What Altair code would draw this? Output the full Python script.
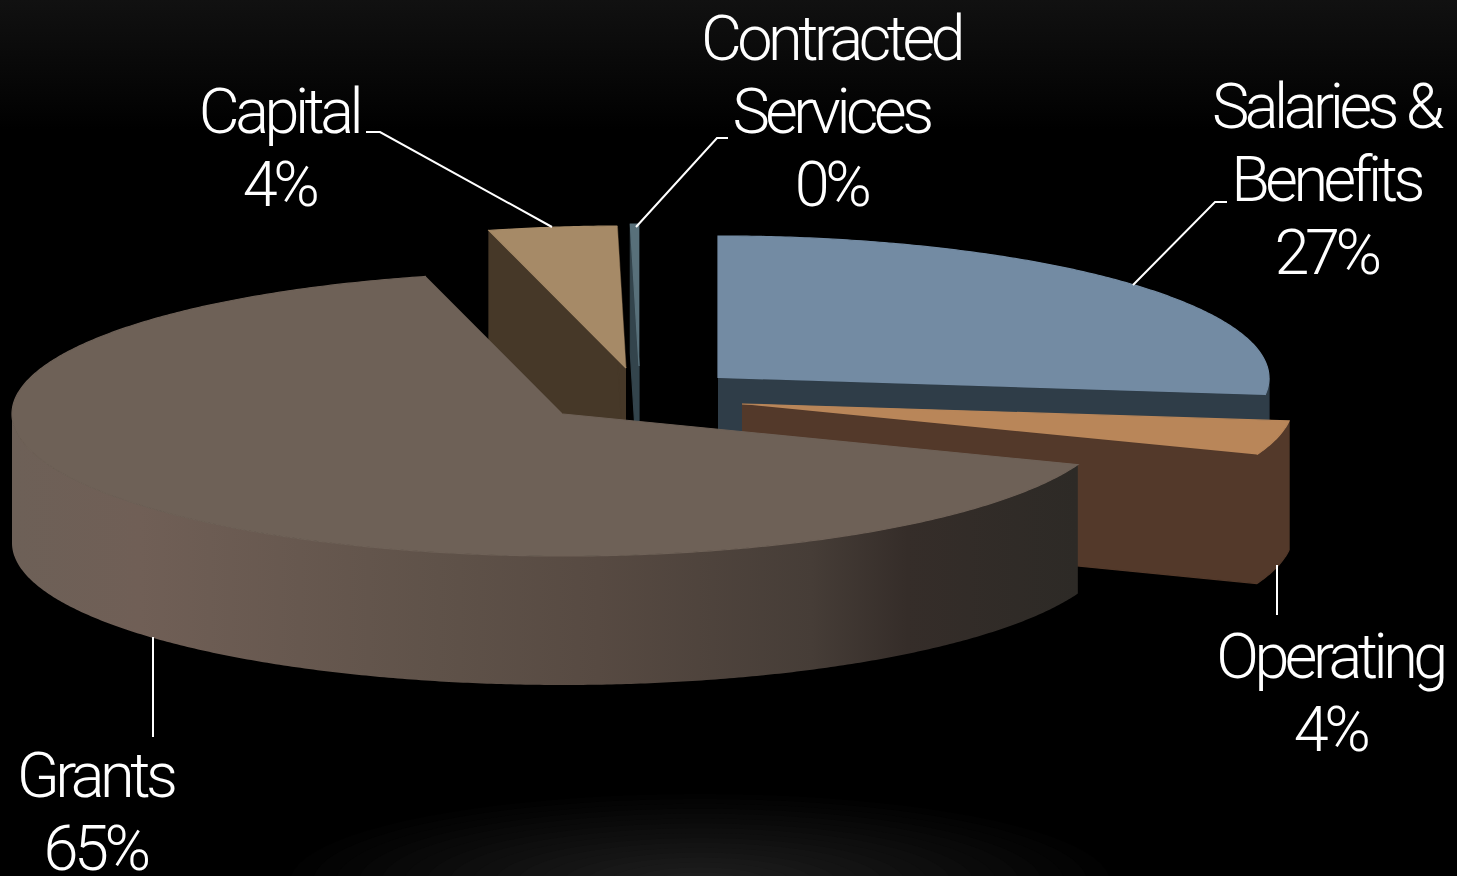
import numpy as np
import pandas as pd
import altair as alt

# chart values
names = ["Salaries &\nBenefits", "Operating", "Grants", "Capital", "Contracted\nServices"]
labels = ["27%", "4%", "65%", "4%", "0%"]
shares = [26.9, 3.9, 65.2, 3.75, 0.25]

# layout of the exploded 3-D pie
APEX = [(718, 378), (742, 404), (563, 414), (626, 368), (639, 366)]
RX, RY, DEPTH = 551, 142, 129
START = 270.0
TOP = ["#738ba3", "#b98659", "#6e6157", "#a68a67", "#58707a"]
WALL = ["#2f3d48", "#53392a", None, "#463828", "#33444c"]
GRANT_STOPS = [(0.0, "#6d6057"), (0.12, "#705f56"), (0.4, "#5f5249"), (0.55, "#574a42"),
               (0.75, "#463d37"), (0.84, "#352d29"), (1.0, "#2d2a26")]
LABEL_POS = [(1326, 128), (1330, 678), (95, 797), (279, 133), (831, 60)]
LEADERS = [
    [(1133, 285), (1215, 202), (1227, 202)],
    [(1277, 565), (1277, 615)],
    [(153, 637), (153, 737)],
    [(552, 227), (380, 132), (366, 132)],
    [(636, 227), (717, 138), (728, 138)],
]

W, H = 1457, 876
X = alt.X("x:Q", scale=alt.Scale(domain=[0, W], nice=False, zero=False), axis=None)
Y = alt.Y("y:Q", scale=alt.Scale(domain=[0, H], reverse=True, nice=False, zero=False), axis=None)


def poly(pts, fill, seam=True):
    df = pd.DataFrame(pts, columns=["x", "y"])
    df["i"] = range(len(df))
    stroke = fill if (seam and isinstance(fill, str)) else "transparent"
    return alt.Chart(df).mark_line(fill=fill, stroke=stroke, strokeWidth=1.2, clip=True).encode(
        x=X, y=Y, order="i:Q"
    )


def arc(apex, a0, a1, dy=0):
    t = np.radians(np.linspace(a0, a1, max(2, int(abs(a1 - a0) * 2) + 1)))
    return [(apex[0] + RX * np.cos(a), apex[1] + RY * np.sin(a) + dy) for a in t]


def band(apex, a0, a1):
    return arc(apex, a0, a1) + arc(apex, a1, a0, DEPTH)


layers = []

# faint background glows
top_glow = alt.LinearGradient(
    gradient="linear", x1=0, x2=0, y1=0, y2=1,
    stops=[alt.GradientStop(color="#111111", offset=0), alt.GradientStop(color="#000000", offset=1)],
)
layers.append(poly([(0, 0), (W, 0), (W, 130), (0, 130)], top_glow))

GLOW_STEPS = 18
for s in range(GLOW_STEPS):
    f = 1 - s / GLOW_STEPS
    t = np.radians(np.arange(180, 361, 4))
    pts = [(700 + 410 * f * np.cos(a), 882 + 88 * f * np.sin(a)) for a in t]
    g = int(round(2 + 30 * (1 - f)))
    layers.append(poly(pts, f"#{g:02x}{g:02x}{g:02x}", seam=False))

bounds = np.cumsum([0] + [s * 3.6 for s in shares]) + START


def draw(i):
    a0, a1 = bounds[i], bounds[i + 1]
    apex = APEX[i]
    p0 = arc(apex, a0, a0)[0]
    p1 = arc(apex, a1, a1)[0]
    down = (apex[0], apex[1] + DEPTH)
    out = []
    if i == 2:
        grad = alt.LinearGradient(
            gradient="linear", x1=0, x2=1, y1=0, y2=0,
            stops=[alt.GradientStop(color=c, offset=o) for o, c in GRANT_STOPS],
        )
        out.append(poly(band(apex, a0, 540), grad))
    elif 360 < a1 < 540:
        # one outline for the cut face and the rim that faces the viewer
        lo = max(a0, 360)
        out.append(poly([apex] + arc(apex, a1, lo) + arc(apex, lo, a1, DEPTH) + [down], WALL[i]))
    else:
        for p in (p0, p1):
            out.append(poly([apex, p, (p[0], p[1] + DEPTH), down], WALL[i]))
    out.append(poly([apex] + arc(apex, a0, a1), TOP[i]))
    return out


for i in [0, 1, 3, 4, 2]:
    layers.extend(draw(i))

# leader lines
rows = []
for k, line in enumerate(LEADERS):
    for j, (x, y) in enumerate(line):
        rows.append({"x": x, "y": y, "k": k, "j": j})
layers.append(
    alt.Chart(pd.DataFrame(rows)).mark_line(color="#ffffff", strokeWidth=2).encode(
        x=X, y=Y, detail="k:N", order="j:Q"
    )
)

# labels
text_df = pd.DataFrame({
    "x": [p[0] for p in LABEL_POS],
    "y": [p[1] for p in LABEL_POS],
    "t": [f"{n}\n{l}" for n, l in zip(names, labels)],
})
layers.append(
    alt.Chart(text_df).mark_text(
        font="Roboto", fontWeight=300, fontSize=63, color="#ffffff",
        align="center", baseline="alphabetic", lineBreak="\n", lineHeight=73,
    ).encode(x=X, y=Y, text="t:N")
)

chart = (
    alt.layer(*layers)
    .properties(width=W, height=H, background="#000000", padding=0,
                autosize=alt.AutoSizeParams(type="none"))
    .configure_view(stroke=None)
)

chart.save("out.html", embed_options={
    "renderer": "svg", "actions": False,
    "defaultStyle": "html,body{margin:0;padding:0;background:#000;overflow:hidden}"
                    ".mark-text text{letter-spacing:-4.5px}",
})
